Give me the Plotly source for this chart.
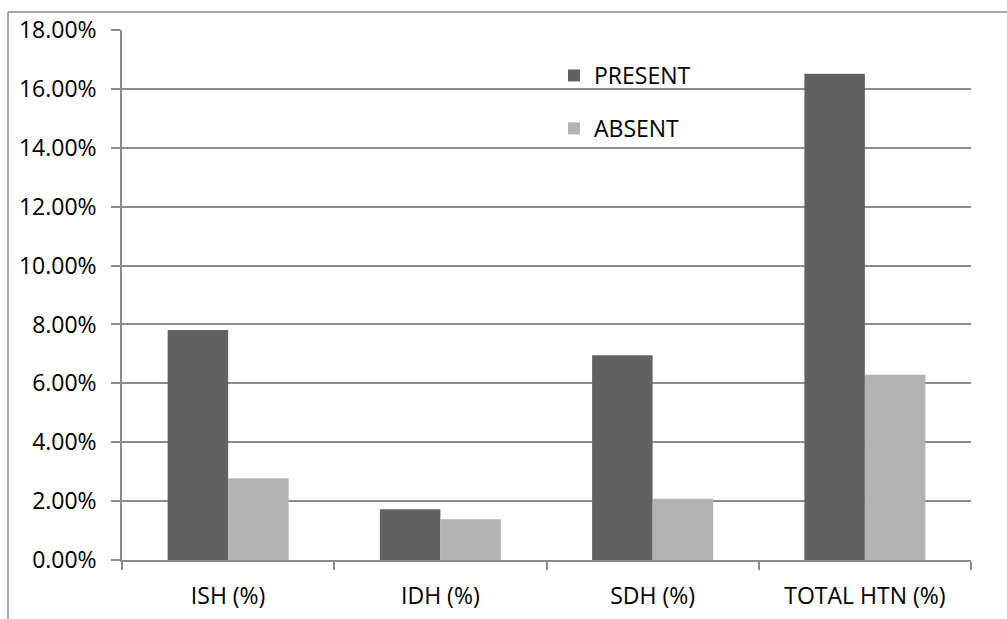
import plotly.graph_objects as go

categories = ["ISH (%)", "IDH (%)", "SDH (%)", "TOTAL HTN (%)"]
present = [0.0781, 0.0172, 0.0695, 0.1651]
absent = [0.0278, 0.0138, 0.0208, 0.0629]
series_names = ["PRESENT", "ABSENT"]
y_ticks = [0, 0.02, 0.04, 0.06, 0.08, 0.10, 0.12, 0.14, 0.16, 0.18]

W, H = 1007, 619
ML, MR, MT, MB = 122, 36, 30, 59
PW = W - ML - MR
PH = H - MT - MB

FONT = "Open Sans"
FS = 23
GRID = "#8c8c8c"

fig = go.Figure()
fig.add_trace(go.Bar(x=categories, y=present, name=series_names[0],
                     marker=dict(color="#616161", line=dict(width=0)),
                     legendgroup="p"))
fig.add_trace(go.Bar(x=categories, y=absent, name=series_names[1],
                     marker=dict(color="#b3b3b3", line=dict(width=0)),
                     legendgroup="a"))

def px_x(p):
    return (p - ML) / PW

def px_y(p):
    return 1 - (p - MT) / PH

fig.update_layout(
    width=W, height=H,
    margin=dict(l=ML, r=MR, t=MT, b=MB, autoexpand=False),
    paper_bgcolor="white", plot_bgcolor="white",
    barmode="group", bargap=0.43, bargroupgap=0,
    font=dict(family=FONT, size=FS, color="#000000"),
    hovermode=False,
    legend=dict(x=px_x(554), y=px_y(54), xanchor="left", yanchor="top",
                traceorder="grouped", tracegroupgap=20,
                bgcolor="rgba(0,0,0,0)", font=dict(size=FS, family=FONT),
                itemclick=False, itemdoubleclick=False),
    xaxis=dict(showgrid=False, showline=True, linecolor=GRID, linewidth=1.5,
               ticks="outside", tickson="boundaries", ticklen=8, tickcolor=GRID,
               tickwidth=1.5, ticklabelstandoff=15),
    yaxis=dict(range=[0, 0.18], tickvals=y_ticks, tickformat=".2%",
               showgrid=True, gridcolor=GRID, gridwidth=1.5,
               showline=True, linecolor=GRID, linewidth=1.5,
               ticks="outside", ticklen=9, tickcolor=GRID, tickwidth=1.5,
               ticklabelstandoff=10, zeroline=False),
    shapes=[
        dict(type="line", xref="paper", yref="paper",
             x0=px_x(8), x1=px_x(W + 5), y0=px_y(12), y1=px_y(12),
             line=dict(color=GRID, width=1.5)),
        dict(type="line", xref="paper", yref="paper",
             x0=px_x(8), x1=px_x(8), y0=px_y(12), y1=px_y(H + 5),
             line=dict(color=GRID, width=1.5)),
    ],
)

fig.write_html("out.html", config={"displayModeBar": False},
               post_script="document.body.style.margin='0';")
